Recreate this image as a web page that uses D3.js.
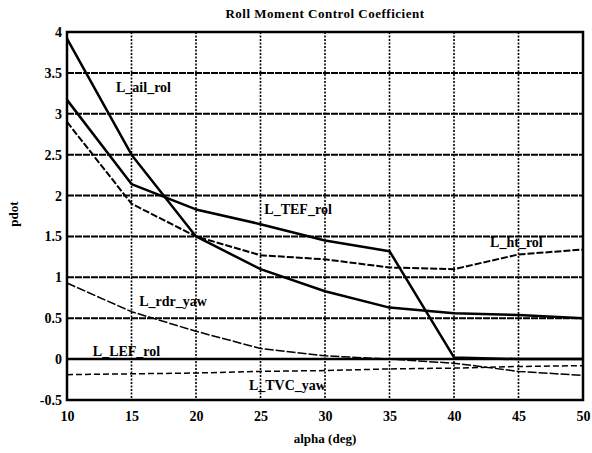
<!DOCTYPE html>
<html lang="en">
<head>
<meta charset="UTF-8">
<title>Roll Moment Control Coefficient</title>
<script src="https://d3js.org/d3.v7.min.js"></script>
<style>
  body { margin: 0; background: #fff; }
  text { font-family: "Liberation Serif", "DejaVu Serif", serif; font-weight: bold; fill: #000; }
</style>
</head>
<body>
<script>
    // data
    var alpha = [10, 15, 20, 25, 30, 35, 40, 45, 50];
    var ailRol = [3.92, 2.5, 1.5, 1.1, 0.83, 0.63, 0.56, 0.54, 0.5];
    var tefRol = [3.17, 2.14, 1.83, 1.65, 1.45, 1.32, 0.02, 0, 0];
    var htRol  = [2.9, 1.9, 1.5, 1.27, 1.22, 1.12, 1.1, 1.28, 1.34];
    var rdrYaw = [0.93, 0.58, 0.34, 0.13, 0.04, 0.0, -0.05, -0.15, -0.2];
    var lefRol = [0, 0, 0, 0, 0, 0, 0, 0, 0];
    var tvcYaw = [-0.19, -0.18, -0.17, -0.15, -0.14, -0.12, -0.11, -0.09, -0.08];

    var xTicks = [10, 15, 20, 25, 30, 35, 40, 45, 50];
    var yTicks = [-0.5, 0, 0.5, 1, 1.5, 2, 2.5, 3, 3.5, 4];

    var series = [
        { name: "L_ail_rol", values: ailRol, width: 2.5, dash: null },
        { name: "L_TEF_rol", values: tefRol, width: 2.5, dash: null },
        { name: "L_ht_rol",  values: htRol,  width: 2,   dash: "7,2" },
        { name: "L_rdr_yaw", values: rdrYaw, width: 1.5, dash: "9,2" },
        { name: "L_LEF_rol", values: lefRol, width: 2.5, dash: null },
        { name: "L_TVC_yaw", values: tvcYaw, width: 1.5, dash: "6,3" }
    ];

    // label positions in data units
    var labels = [
        { text: "L_ail_rol", x: 13.8, y: 3.33 },
        { text: "L_TEF_rol", x: 25.3, y: 1.83 },
        { text: "L_ht_rol",  x: 42.8, y: 1.43 },
        { text: "L_rdr_yaw", x: 15.6, y: 0.71 },
        { text: "L_LEF_rol", x: 12.0, y: 0.10 },
        { text: "L_TVC_yaw", x: 24.1, y: -0.32 }
    ];

    var W = 592, H = 453;
    var margin = { top: 32, right: 9, bottom: 53, left: 67 };
    var w = W - margin.left - margin.right,
        h = H - margin.top - margin.bottom;

    var svg = d3.select("body").append("svg")
        .attr("width", W)
        .attr("height", H);

    var g = svg.append("g")
        .attr("transform", "translate(" + margin.left + "," + margin.top + ")");

    var x = d3.scaleLinear().domain([10, 50]).range([0, w]);
    var y = d3.scaleLinear().domain([-0.5, 4]).range([h, 0]);

    // grid
    g.append("g").selectAll("line")
        .data(yTicks)
        .enter().append("line")
        .attr("x1", 0).attr("x2", w)
        .attr("y1", d => y(d)).attr("y2", d => y(d))
        .attr("stroke", "#000")
        .attr("stroke-width", 2)
        .attr("stroke-dasharray", "7,1");

    g.append("g").selectAll("line")
        .data(xTicks)
        .enter().append("line")
        .attr("y1", 0).attr("y2", h)
        .attr("x1", d => x(d)).attr("x2", d => x(d))
        .attr("stroke", "#000")
        .attr("stroke-width", 1.6)
        .attr("stroke-dasharray", "2,1.5");

    // axes
    var xAxis = g.append("g")
        .attr("transform", "translate(0," + h + ")")
        .call(d3.axisBottom(x).tickValues(xTicks).tickSize(0).tickPadding(11).tickFormat(d3.format("d")));
    var yAxis = g.append("g")
        .call(d3.axisLeft(y).tickValues(yTicks).tickSize(0).tickPadding(5).tickFormat(d => String(d)));
    [xAxis, yAxis].forEach(a => {
        a.select(".domain").remove();
        a.selectAll("text")
            .style("font-size", "14px")
            .style("font-family", "'Liberation Serif', serif")
            .style("font-weight", "bold");
    });

    // lines
    var line = d3.line()
        .x((d, i) => x(alpha[i]))
        .y(d => y(d));

    g.append("g").selectAll("path")
        .data(series)
        .enter().append("path")
        .attr("d", d => line(d.values))
        .attr("fill", "none")
        .attr("stroke", "#000")
        .attr("stroke-width", d => d.width)
        .attr("stroke-dasharray", d => d.dash)
        .attr("stroke-linejoin", "round");

    // frame
    g.append("rect")
        .attr("width", w).attr("height", h)
        .attr("fill", "none")
        .attr("stroke", "#000")
        .attr("stroke-width", 2.5);

    // series labels
    g.append("g").selectAll("text")
        .data(labels)
        .enter().append("text")
        .attr("x", d => x(d.x))
        .attr("y", d => y(d.y))
        .attr("dy", "0.35em")
        .style("font-size", "14px")
        .text(d => d.text);

    // title and axis titles
    svg.append("text")
        .attr("x", margin.left + w / 2)
        .attr("y", 18)
        .attr("text-anchor", "middle")
        .style("font-size", "13px")
        .style("letter-spacing", "0.5px")
        .text("Roll Moment Control Coefficient");

    svg.append("text")
        .attr("x", margin.left + w / 2)
        .attr("y", 443)
        .attr("text-anchor", "middle")
        .style("font-size", "13px")
        .text("alpha (deg)");

    svg.append("text")
        .attr("transform", "translate(18,214) rotate(-90)")
        .attr("text-anchor", "middle")
        .style("font-size", "13px")
        .text("pdot");
</script>
</body>
</html>
